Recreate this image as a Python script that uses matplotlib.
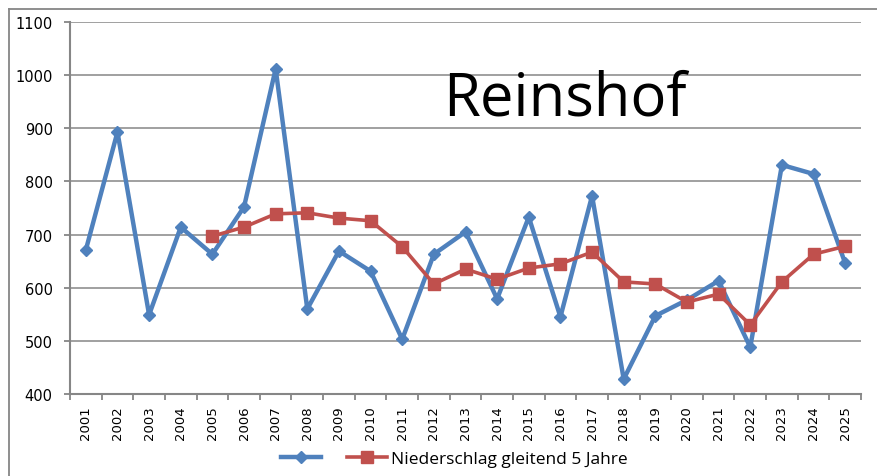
import numpy as np
import matplotlib
matplotlib.use("Agg")
import matplotlib.pyplot as plt
from matplotlib.lines import Line2D

# Daten
years = list(range(2001, 2026))
niederschlag = [671, 893, 549, 714, 663, 752, 1012, 560, 669, 631, 503, 663, 705,
                579, 733, 545, 773, 428, 547, 577, 613, 488, 831, 814, 646]
gleitend_years = list(range(2005, 2026))
gleitend = [697, 714, 739, 741, 731, 726, 677, 607, 635, 616, 637, 645, 667,
            611, 607, 573, 588, 530, 611, 663, 678]
labels = [' ', 'Niederschlag gleitend 5 Jahre']
title = 'Reinshof'

blue = '#4F81BD'
red = '#C0504D'
grey = '#868686'

fig = plt.figure(figsize=(8.78, 4.77), dpi=100)
ax = fig.add_axes([70 / 878, 1 - 395 / 477, 791 / 878, 372 / 477])

ax.plot(years, niederschlag, color=blue, lw=3.2, marker='D', ms=6.5,
        mec=blue, mfc=blue, zorder=3)
ax.plot(gleitend_years, gleitend, color=red, lw=2.6, marker='s', ms=9,
        mec=red, mfc=red, zorder=4)

ax.set_xlim(2000.5, 2025.5)
ax.set_ylim(400, 1100)
ax.set_yticks(np.arange(400, 1101, 100))
ax.set_xticks(years)
ax.set_xticklabels([str(y) for y in years], rotation=90,
                   family=['Liberation Sans Narrow', 'DejaVu Sans'], fontsize=9.5)
ax.set_xticks(np.arange(2000.5, 2026, 1), minor=True)
ax.tick_params(axis='x', which='major', length=0, pad=8)
ax.tick_params(axis='x', which='minor', length=4, color=grey, width=1.3)
ax.tick_params(axis='y', length=4.5, color=grey, width=1.3, labelsize=10.5, pad=8)
for lbl in ax.get_yticklabels():
    lbl.set_family('DejaVu Sans')

ax.grid(axis='y', color=grey, lw=1.1)
ax.set_axisbelow(True)
for s in ['top', 'right']:
    ax.spines[s].set_visible(False)
for s in ['left', 'bottom']:
    ax.spines[s].set_color(grey)
    ax.spines[s].set_linewidth(1.5)

fig.text(443 / 878, 1 - 100 / 477, title, fontsize=43, family='Open Sans',
         va='center', ha='left')

handles = [Line2D([], [], color=blue, lw=3.2, marker='D', ms=6.5),
           Line2D([], [], color=red, lw=2.6, marker='s', ms=9)]
fig.legend(handles, labels, loc='center left', bbox_to_anchor=(265 / 878, 1 - 460 / 477),
           ncol=2, frameon=False, handlelength=2.3,
           handletextpad=0.25, columnspacing=1.0, prop={'family': 'Open Sans', 'size': 12.5})

# Rahmen des Diagramms
fig.add_artist(Line2D([9 / 878, 1], [1 - 10 / 477, 1 - 10 / 477], color=grey, lw=1.3,
                      transform=fig.transFigure))
fig.add_artist(Line2D([9 / 878, 9 / 878], [0, 1 - 10 / 477], color=grey, lw=1.3,
                      transform=fig.transFigure))

fig.savefig('out.png', dpi=100)
